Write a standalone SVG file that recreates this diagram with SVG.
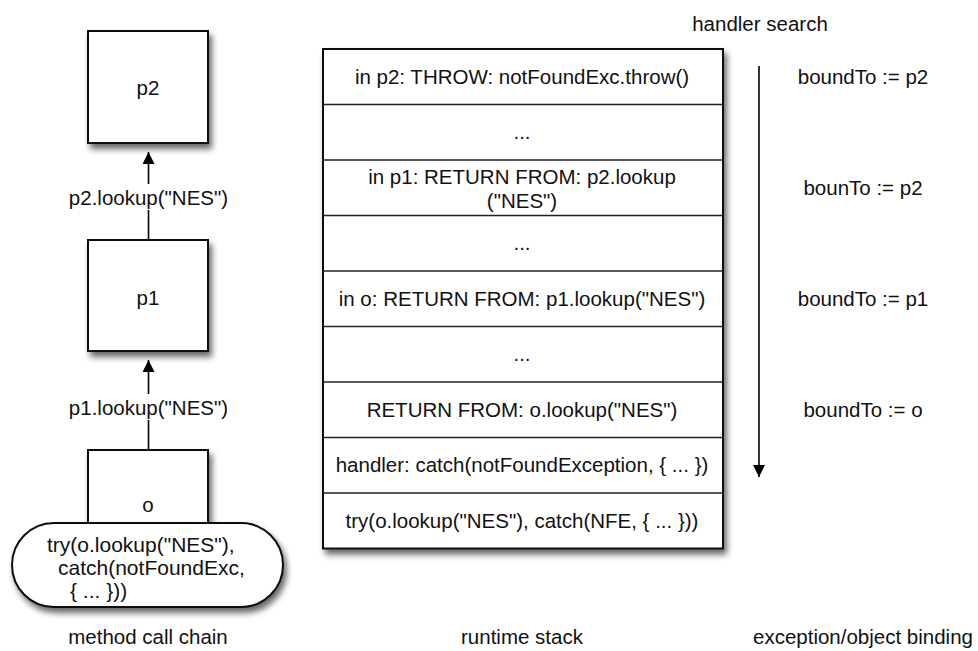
<svg xmlns="http://www.w3.org/2000/svg" width="978" height="651" viewBox="0 0 978 651">
  <defs>
    <filter id="shadow" x="-20%" y="-20%" width="150%" height="150%">
      <feGaussianBlur in="SourceAlpha" stdDeviation="3"/>
      <feOffset dx="3" dy="5" result="blur"/>
      <feComponentTransfer in="blur" result="soft">
        <feFuncA type="linear" slope="0.6"/>
      </feComponentTransfer>
      <feMerge>
        <feMergeNode in="soft"/>
        <feMergeNode in="SourceGraphic"/>
      </feMerge>
    </filter>
    <marker id="head" markerWidth="12" markerHeight="14" refX="12" refY="6" orient="auto" markerUnits="userSpaceOnUse">
      <path d="M0,0 L12,6 L0,12 Z" fill="#000"/>
    </marker>
  </defs>
  <style>
    text { font-family: "Liberation Sans", Arial, sans-serif; font-size: 20.5px; fill: #111; }
    .c { text-anchor: middle; }
    .pill { font-size: 21px; }
    .box { fill: #fff; stroke: #111; stroke-width: 2; }
    .row { fill: none; stroke: #222; stroke-width: 1.5; }
    .conn { fill: none; stroke: #000; stroke-width: 1.6; }
  </style>

  <rect width="978" height="651" fill="#fff"/>

  <!-- call chain connectors -->
  <g id="connectors">
    <line class="conn" x1="148.5" y1="240" x2="148.5" y2="152" marker-end="url(#head)"/>
    <line class="conn" x1="148.5" y1="450" x2="148.5" y2="360" marker-end="url(#head)"/>
    <rect x="70" y="184" width="158" height="26" fill="#fff"/>
    <text class="c" x="148.5" y="205">p2.lookup("NES")</text>
    <rect x="70" y="394" width="158" height="26" fill="#fff"/>
    <text class="c" x="148.5" y="415">p1.lookup("NES")</text>
    <!-- handler search direction -->
    <line class="conn" x1="759" y1="66" x2="759" y2="477" marker-end="url(#head)"/>
  </g>

  <g id="node-p2">
    <rect class="box" x="88" y="31" width="120" height="112" filter="url(#shadow)"/>
    <text class="c" x="148" y="95">p2</text>
  </g>

  <g id="node-p1">
    <rect class="box" x="88" y="240" width="120" height="111" filter="url(#shadow)"/>
    <text class="c" x="148" y="305">p1</text>
  </g>

  <g id="node-o">
    <rect class="box" x="88" y="450" width="120" height="90" filter="url(#shadow)"/>
    <text class="c" x="148" y="512">o</text>
  </g>

  <g id="node-try">
    <rect class="box" x="12" y="523" width="271" height="84" rx="42" ry="42" filter="url(#shadow)"/>
    <text class="pill" x="47" y="552">try(o.lookup("NES"),</text>
    <text class="pill" x="58" y="575">catch(notFoundExc,</text>
    <text class="pill" x="70" y="598">{ ... }))</text>
  </g>

  <!-- runtime stack frames -->
  <g id="stack">
    <rect class="box" x="323" y="49" width="400" height="499.5" filter="url(#shadow)"/>
    <line class="row" x1="323" y1="104.5" x2="723" y2="104.5"/>
    <line class="row" x1="323" y1="160" x2="723" y2="160"/>
    <line class="row" x1="323" y1="215.5" x2="723" y2="215.5"/>
    <line class="row" x1="323" y1="271" x2="723" y2="271"/>
    <line class="row" x1="323" y1="326.5" x2="723" y2="326.5"/>
    <line class="row" x1="323" y1="382" x2="723" y2="382"/>
    <line class="row" x1="323" y1="437.5" x2="723" y2="437.5"/>
    <line class="row" x1="323" y1="493" x2="723" y2="493"/>
    <text class="c" x="522" y="84">in p2: THROW: notFoundExc.throw()</text>
    <text class="c" x="522" y="139">...</text>
    <text class="c" x="522" y="184">in p1: RETURN FROM: p2.lookup</text>
    <text class="c" x="522" y="208">("NES")</text>
    <text class="c" x="522" y="250">...</text>
    <text class="c" x="522" y="306">in o: RETURN FROM: p1.lookup("NES")</text>
    <text class="c" x="522" y="361">...</text>
    <text class="c" x="522" y="417">RETURN FROM: o.lookup("NES")</text>
    <text class="c" x="522" y="472">handler: catch(notFoundException, { ... })</text>
    <text class="c" x="522" y="528">try(o.lookup("NES"), catch(NFE, { ... }))</text>
  </g>

  <!-- bindings -->
  <g id="bindings">
    <text class="c" x="760" y="31">handler search</text>
    <text class="c" x="863" y="84">boundTo := p2</text>
    <text class="c" x="863" y="195">bounTo := p2</text>
    <text class="c" x="863" y="306">boundTo := p1</text>
    <text class="c" x="863" y="417">boundTo := o</text>
  </g>

  <!-- column captions -->
  <g id="captions">
    <text class="c" x="148" y="644">method call chain</text>
    <text class="c" x="522" y="644">runtime stack</text>
    <text class="c" x="863" y="644">exception/object binding</text>
  </g>
</svg>
